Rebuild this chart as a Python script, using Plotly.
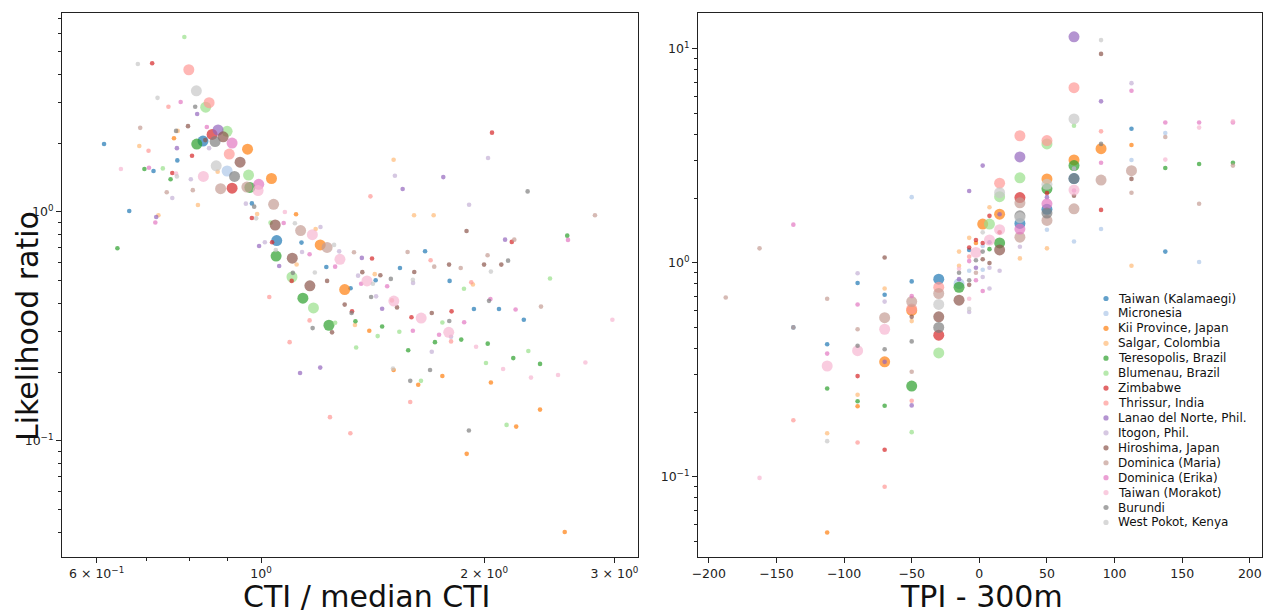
import plotly.graph_objects as go

# ---------------- data ----------------
SITES = ["Taiwan (Kalamaegi)", "Micronesia", "Kii Province, Japan", "Salgar, Colombia",
         "Teresopolis, Brazil", "Blumenau, Brazil", "Zimbabwe", "Thrissur, India",
         "Lanao del Norte, Phil.", "Itogon, Phil.", "Hiroshima, Japan", "Dominica (Maria)",
         "Dominica (Erika)", "Taiwan (Morakot)", "Burundi", "West Pokot, Kenya"]

# (CTI / median CTI, likelihood ratio, relative sample weight)
kal_cti = [(0.614,1.98,1),(0.835,2.04,4),(0.771,1.68,1),(0.716,1.51,1),(0.664,1.01,1),(0.972,1.09,1),
           (1.05,0.75,4),(1.134,0.735,1),(1.225,0.575,1),(1.321,0.464,1),(1.665,0.674,1),(1.54,0.569,1),
           (1.428,0.503,1),(1.797,0.50,1),(1.938,0.377,1),(2.095,0.377,1),(2.263,0.338,1)]
mic_cti = [(0.90,1.51,4)]
kii_cti = [(0.763,2.10,1),(0.959,1.88,4),(1.033,1.40,4),(1.115,0.977,1),(1.202,0.718,4),(1.297,0.458,4),
           (1.40,0.303,1),(1.51,0.204,1),(1.63,0.176,1),(1.757,0.192,1),(2.043,0.18,1),(2.38,0.137,1),
           (2.21,0.1155,1),(1.895,0.0878,1),(2.57,0.040,1)]
sal_cti = [(0.772,2.26,1),(0.685,1.94,1),(0.874,1.50,1),(0.822,1.073,1),(0.727,0.967,1),(0.988,0.98,1),
           (1.117,0.59,1),(1.185,0.843,1),(1.424,0.535,1),(1.339,0.321,1),(1.51,1.69,1),(1.609,0.967,1),
           (1.71,0.967,1),(1.932,0.482,1)]
ter_cti = [(0.819,1.98,4),(0.696,1.54,1),(0.755,1.39,1),(0.64,0.694,1),(0.966,1.28,4),(1.048,0.642,4),
           (1.139,0.42,4),(1.235,0.32,4),(1.341,0.333,1),(1.457,0.316,1),(1.58,0.249,1),(1.717,0.27,1),
           (1.863,0.277,1),(2.023,0.266,1),(2.19,0.23,1),(2.38,0.217,1),(2.59,0.788,1)]
blu_cti = [(0.788,5.81,1),(0.842,2.87,4),(0.90,2.25,4),(0.737,1.55,1),(0.962,1.45,4),(1.03,0.898,1),
           (1.101,0.52,4),(1.177,0.381,4),(1.259,0.328,1),(1.344,0.256,1),(1.437,0.287,1),(1.537,0.30,1),
           (1.644,0.183,1),(1.757,0.329,1),(1.879,0.462,1),(2.012,0.219,1),(2.145,0.1175,1),(2.295,0.247,1),
           (2.455,0.512,1)]
zim_cti = [(0.713,4.46,1),(0.859,2.18,4),(0.807,1.76,1),(0.759,1.48,1),(0.914,1.27,4),(0.972,0.941,1),
           (1.035,0.737,1),(1.10,0.50,1),(1.327,0.368,1),(1.412,0.626,1),(1.596,0.347,1),(1.808,0.368,1),
           (2.05,2.22,1),(2.18,0.74,1)]
thr_cti = [(0.799,4.18,4),(0.75,2.88,1),(0.851,3.0,4),(0.705,1.85,1),(0.906,1.79,4),(1.026,0.425,1),
           (1.093,0.27,1),(1.163,0.336,1),(1.239,0.127,1),(1.32,0.108,1),(1.405,1.17,1),(1.502,0.411,1),
           (1.59,0.148,1),(1.694,0.615,1),(1.805,0.272,1),(1.922,0.493,1)]
lan_cti = [(0.82,2.68,1),(0.77,1.90,1),(0.875,2.28,4),(0.722,0.951,1),(0.994,0.71,1),(1.058,0.581,1),
           (1.129,0.198,1),(1.202,0.209,1),(1.368,0.63,1),(1.457,0.378,1),(1.553,1.26,1),(1.762,1.42,1),
           (2.135,0.757,1)]
ito_cti = [(0.851,1.90,1),(0.804,1.39,1),(0.759,1.15,1),(0.954,1.087,1),(1.012,0.737,1),(1.203,0.86,1),
           (1.136,0.669,1),(1.275,0.673,1),(1.352,0.527,1),(1.43,0.428,1),(1.516,1.44,1),(1.604,0.49,1),
           (1.70,0.245,1),(1.805,0.285,1),(1.909,1.076,1),(2.025,1.72,1)]
hir_cti = [(0.797,2.37,1),(0.841,2.06,1),(0.889,2.13,4),(0.937,1.65,4),(1.045,0.877,4),(1.102,0.628,4),
           (1.164,0.476,4),(1.228,0.50,1),(1.247,0.298,1),(1.297,0.394,1),(1.37,0.546,1),(1.449,0.529,1),
           (1.526,0.383,1),(1.61,0.547,1),(1.70,0.362,1),(1.794,0.589,1),(1.894,0.826,1),(2.0,0.589,1),
           (2.11,0.589,1)]
mar_cti = [(0.687,2.33,1),(0.746,1.22,1),(0.809,1.245,1),(0.882,1.264,4),(0.957,1.285,4),(1.04,1.08,4),
           (1.131,0.829,4),(1.228,0.70,4),(1.335,0.667,1),(1.577,0.669,1),(1.713,0.577,1),(1.86,0.569,1),
           (2.022,0.647,1),(2.197,0.757,1),(2.387,0.386,1),(2.823,0.967,1)]
eri_cti = [(0.779,3.02,1),(0.845,2.35,1),(0.914,2.0,4),(0.706,1.56,1),(0.993,1.32,4),(0.72,0.90,1),
           (1.073,0.895,1),(1.163,0.654,1),(1.259,0.577,1),(1.365,0.486,1),(1.48,0.474,1),(1.603,0.303,1),
           (1.739,0.291,1),(1.88,0.33,1),(2.04,0.417,1),(2.206,0.375,1),(2.596,0.755,1)]
mor_cti = [(0.647,1.54,1),(0.768,1.47,1),(0.836,1.43,4),(0.991,1.24,4),(1.077,1.0,1),(1.173,0.796,4),
           (1.278,0.621,4),(1.39,0.50,4),(1.511,0.408,4),(1.645,0.344,4),(1.792,0.298,4),(1.951,0.258,1),
           (2.122,0.206,1),(2.314,0.189,1),(2.517,0.194,1),(2.74,0.22,1),(2.98,0.338,1)]
bur_cti = [(0.815,2.88,1),(0.768,2.26,1),(0.867,2.03,4),(0.921,1.43,4),(0.979,1.055,1),(1.104,0.542,1),
           (1.174,0.311,1),(1.325,0.362,1),(1.408,0.425,1),(1.497,0.51,1),(1.59,0.183,1),(1.691,0.204,1),
           (1.795,0.334,1),(1.908,0.111,1),(2.031,0.409,1),(2.155,0.613,1),(2.29,1.23,1)]
wpk_cti = [(0.682,4.43,1),(0.725,3.15,1),(0.818,3.38,4),(0.87,1.59,4),(0.77,1.43,1),(0.985,0.938,1),
           (1.047,0.682,1),(1.111,0.893,1),(1.182,0.544,1),(1.255,0.718,1),(1.416,0.486,1),(1.507,0.207,1),
           (1.603,0.506,1),(2.043,0.549,1)]

# (TPI 300 m bin centre, likelihood ratio, relative sample weight)
kal_tpi = [(-137.5,0.50,1),(-112.5,0.417,1),(-90,0.806,1),(-70,0.71,1),(-50,0.82,1),(-30,0.84,4),
           (-7.5,1.15,1),(30,1.53,4),(50,1.78,4),(70,2.48,4),(112.5,4.24,1),(137.5,1.13,1)]
mic_tpi = [(-50,2.03,1),(-15,0.80,4),(-7.5,0.92,1),(2.5,1.20,1),(2.5,0.93,1),(50,1.43,1),(70,1.26,1),
           (90,1.44,1),(112.5,3.03,1),(137.5,4.05,1),(162.5,1.01,1)]
kii_tpi = [(-112.5,0.055,1),(-90,0.214,1),(-70,0.345,4),(-50,0.60,4),(-2.5,1.24,1),(2.5,1.52,4),
           (15,1.69,4),(50,2.47,4),(70,3.03,4),(90,3.42,4),(112.5,3.56,1)]
sal_tpi = [(-112.5,0.16,1),(-90,0.242,1),(-70,0.76,1),(-50,0.535,1),(-15,1.13,1),(-15,0.97,1),
           (-7.5,1.31,1),(7.5,1.82,1),(30,1.05,1),(50,1.17,1),(112.5,0.97,1)]
ter_tpi = [(-112.5,0.259,1),(-90,0.226,1),(-70,0.215,1),(-50,0.266,4),(-15,0.77,4),(7.5,1.16,1),
           (15,1.24,4),(50,2.22,4),(70,2.85,4),(137.5,2.78,1),(162.5,2.90,1),(187.5,2.94,1)]
blu_tpi = [(-50,0.162,1),(-30,0.38,4),(7.5,1.52,4),(15,2.04,4),(30,2.50,4),(50,3.60,4),(70,4.38,1)]
zim_tpi = [(-90,0.296,1),(-70,0.134,1),(-30,0.46,4),(-7.5,1.18,1),(-2.5,1.28,1),(2.5,1.24,1),
           (7.5,1.66,1),(15,1.39,1),(30,2.02,4),(50,2.12,1),(90,1.77,1)]
thr_tpi = [(-137.5,0.184,1),(-90,0.145,1),(-70,0.090,1),(-50,0.61,4),(-50,0.227,1),(-30,0.77,4),
           (-7.5,1.07,1),(15,2.36,4),(30,3.93,4),(50,3.73,4),(70,6.59,4),(90,4.12,1)]
lan_tpi = [(-70,0.345,1),(-50,0.216,1),(-15,0.84,1),(-7.5,2.17,1),(-2.5,0.95,1),(2.5,2.85,1),
           (7.5,1.25,1),(15,1.69,1),(30,3.13,4),(50,2.03,1),(70,11.4,4),(90,5.69,1)]
ito_tpi = [(-90,0.895,1),(-70,0.66,1),(-7.5,0.59,1),(2.5,0.86,1),(7.5,0.76,1),(7.5,0.95,1),
           (15,0.92,1),(30,1.19,1),(70,2.76,1),(112.5,6.92,1)]
hir_tpi = [(-70,1.06,1),(-50,0.56,1),(-30,0.56,4),(-15,0.67,4),(-7.5,0.79,1),(2.5,1.04,1),
           (7.5,1.0,1),(15,1.15,4),(70,2.06,1),(90,9.48,1),(112.5,2.47,1)]
mar_tpi = [(-187.5,0.69,1),(-162.5,1.17,1),(-137.5,0.50,1),(-112.5,0.68,1),(-90,0.49,1),(-70,0.555,4),
           (-50,0.66,4),(-50,0.31,1),(-30,0.72,4),(-2.5,0.90,1),(30,1.91,4),(30,1.32,4),(50,1.58,4),
           (70,1.79,4),(90,2.44,4),(112.5,2.70,4),(112.5,2.13,1),(137.5,3.88,1),(162.5,1.89,1),(187.5,2.85,1)]
eri_tpi = [(-137.5,1.51,1),(-112.5,0.377,1),(-90,0.64,1),(-50,0.70,1),(-7.5,1.02,1),(-2.5,0.83,1),
           (2.5,0.74,1),(30,1.44,4),(50,1.89,4),(70,2.18,1),(90,2.94,1),(112.5,6.38,1),(137.5,4.53,1),
           (162.5,4.53,1),(187.5,4.53,1)]
mor_tpi = [(-162.5,0.099,1),(-112.5,0.33,4),(-90,0.389,4),(-70,0.49,4),(-15,0.94,1),(-7.5,0.68,1),
           (-2.5,1.12,4),(7.5,1.28,4),(15,1.43,4),(70,2.19,4),(137.5,3.04,1),(162.5,4.29,1),(187.5,4.59,1)]
bur_tpi = [(-90,0.41,1),(-70,0.395,1),(-50,0.43,1),(-30,0.50,4),(-15,0.90,1),(-7.5,0.83,1),
           (-2.5,1.03,1),(2.5,1.13,1),(30,1.66,4),(50,1.71,4),(70,2.48,4),(90,3.60,1)]
wpk_tpi = [(-112.5,0.147,1),(-30,0.64,4),(-7.5,0.61,1),(2.5,1.39,1),(15,2.13,4),(30,1.63,4),
           (50,2.33,4),(70,4.71,4),(90,11.0,1)]

CTI_DATA = [kal_cti, mic_cti, kii_cti, sal_cti, ter_cti, blu_cti, zim_cti, thr_cti,
            lan_cti, ito_cti, hir_cti, mar_cti, eri_cti, mor_cti, bur_cti, wpk_cti]
TPI_DATA = [kal_tpi, mic_tpi, kii_tpi, sal_tpi, ter_tpi, blu_tpi, zim_tpi, thr_tpi,
            lan_tpi, ito_tpi, hir_tpi, mar_tpi, eri_tpi, mor_tpi, bur_tpi, wpk_tpi]

CTI_TICKS = [0.6, 1, 2, 3]
CTI_TICKTEXT = ["6 × 10<sup>−1</sup>", "10<sup>0</sup>", "2 × 10<sup>0</sup>", "3 × 10<sup>0</sup>"]
TPI_TICKS = [-200, -150, -100, -50, 0, 50, 100, 150, 200]

# ---------------- styles ----------------
COLORS = ["#1f77b4", "#aec7e8", "#ff7f0e", "#ffbb78", "#2ca02c", "#98df8a", "#d62728", "#ff9896",
          "#9467bd", "#c5b0d5", "#8c564b", "#c49c94", "#e377c2", "#f7b6d2", "#7f7f7f", "#c7c7c7"]
FONT = "DejaVu Sans"
SIZE_OF = {1: 4.6, 4: 11}
ALPHA = 0.7

W, H = 1267, 616
L, R, T, B = 62, 5, 13, 59
PW, PH = W - L - R, H - T - B


def px_x(px):
    return (px - L) / PW


def px_y(py):
    return (H - B - py) / PH


fig = go.Figure()
for name, col, cd, td in zip(SITES, COLORS, CTI_DATA, TPI_DATA):
    fig.add_trace(go.Scatter(
        x=[p[0] for p in cd], y=[p[1] for p in cd], mode="markers", name=name,
        marker=dict(color=col, size=[SIZE_OF[p[2]] for p in cd], opacity=ALPHA, line=dict(width=0)),
        xaxis="x", yaxis="y", showlegend=False))
    fig.add_trace(go.Scatter(
        x=[p[0] for p in td], y=[p[1] for p in td], mode="markers", name=name,
        marker=dict(color=col, size=[SIZE_OF[p[2]] for p in td], opacity=ALPHA, line=dict(width=0)),
        xaxis="x2", yaxis="y2", showlegend=False))

axis_common = dict(showline=True, linecolor="#222", linewidth=1, mirror=True, ticks="outside",
                   ticklen=5, tickwidth=1, tickcolor="#222", showgrid=False, zeroline=False,
                   automargin=False, tickfont=dict(family=FONT, size=12.5, color="#222"))


def minor(vals):
    return dict(tickmode="array", tickvals=vals, ticks="outside", ticklen=3, tickwidth=0.8,
                tickcolor="#222", showgrid=False)


y_minor = [m * 10 ** e for e in (-2, -1, 0, 1) for m in range(2, 10)]

fig.update_layout(
    width=W, height=H, margin=dict(l=L, r=R, t=T, b=B, autoexpand=False),
    paper_bgcolor="white", plot_bgcolor="white",
    font=dict(family=FONT, color="#222", size=13),
    xaxis=dict(type="log", domain=[0, px_x(638)], range=[-0.2686, 0.5088],
               tickmode="array", tickvals=CTI_TICKS, ticktext=CTI_TICKTEXT,
               minor=minor([0.7, 0.8, 0.9]), **axis_common),
    yaxis=dict(type="log", domain=[0, 1], range=[-1.507, 0.869],
               tickmode="array", tickvals=[0.1, 1], ticktext=["10<sup>−1</sup>", "10<sup>0</sup>"],
               minor=minor(y_minor), **axis_common),
    xaxis2=dict(domain=[px_x(698), 1], range=[-208, 209], anchor="y2",
                tickmode="array", tickvals=TPI_TICKS, **axis_common),
    yaxis2=dict(type="log", domain=[0, 1], range=[-1.374, 1.168], anchor="x2",
                tickmode="array", tickvals=[0.1, 1, 10],
                ticktext=["10<sup>−1</sup>", "10<sup>0</sup>", "10<sup>1</sup>"],
                minor=minor(y_minor), **axis_common),
)

annotations = [
    dict(text="CTI / median CTI", x=px_x(366), y=px_y(596), xref="paper", yref="paper",
         xanchor="center", yanchor="middle", showarrow=False, font=dict(family=FONT, size=30, color="#111")),
    dict(text="TPI - 300m", x=px_x(981), y=px_y(596), xref="paper", yref="paper",
         xanchor="center", yanchor="middle", showarrow=False, font=dict(family=FONT, size=30, color="#111")),
    dict(text="Likelihood ratio", x=px_x(27), y=px_y(326), xref="paper", yref="paper",
         xanchor="center", yanchor="middle", textangle=-90, showarrow=False,
         font=dict(family=FONT, size=30, color="#111")),
]
shapes = []
for i, (name, col) in enumerate(zip(SITES, COLORS)):
    cy = 298.5 + 14.93 * i
    shapes.append(dict(type="circle", xref="paper", yref="paper",
                       x0=px_x(1106 - 2.6), x1=px_x(1106 + 2.6), y0=px_y(cy + 2.6), y1=px_y(cy - 2.6),
                       fillcolor=col, opacity=ALPHA, line=dict(width=0)))
    annotations.append(dict(text=name, x=px_x(1116), y=px_y(cy), xref="paper", yref="paper",
                            xanchor="left", yanchor="middle", showarrow=False,
                            font=dict(family=FONT, size=12, color="#111")))

fig.update_layout(annotations=annotations, shapes=shapes)
fig.write_html("out.html", config={"displayModeBar": False},
               post_script="document.body.style.margin='0px';document.body.style.padding='0px';"
                           "document.body.style.overflow='hidden';")
